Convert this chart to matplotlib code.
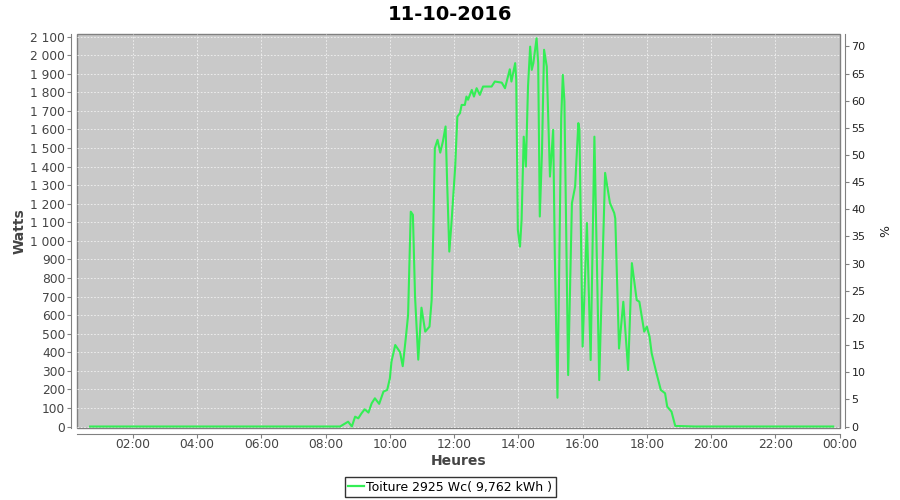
import numpy as np
import pandas as pd
import matplotlib
matplotlib.use("Agg")
import matplotlib.pyplot as plt
from matplotlib.dates import DateFormatter, HourLocator
from matplotlib.ticker import FuncFormatter, MultipleLocator

# Production data (time of day, watts)
times = ["00:40", "07:40", "08:27", "08:42", "08:49", "08:55", "09:01", "09:07",
         "09:13", "09:20", "09:26", "09:32", "09:40", "09:48", "09:55", "10:00",
         "10:03", "10:10", "10:19", "10:24", "10:30", "10:34", "10:39", "10:43",
         "10:47", "10:53", "10:59", "11:06", "11:14", "11:18", "11:21", "11:24",
         "11:29", "11:34", "11:39", "11:44", "11:47", "11:51", "11:55", "12:02",
         "12:06", "12:11", "12:14", "12:20", "12:23", "12:26", "12:33", "12:37",
         "12:42", "12:48", "12:54", "13:10", "13:16", "13:29", "13:35", "13:44",
         "13:47", "13:54", "13:56", "13:59", "14:03", "14:06", "14:10", "14:14",
         "14:18", "14:22", "14:25", "14:28", "14:34", "14:37", "14:40", "14:44",
         "14:48", "14:53", "14:59", "15:05", "15:08", "15:13", "15:20", "15:23",
         "15:26", "15:33", "15:40", "15:46", "15:52", "15:54", "16:00", "16:08",
         "16:15", "16:22", "16:31", "16:42", "16:51", "16:59", "17:01", "17:08",
         "17:16", "17:25", "17:32", "17:41", "17:46", "17:55", "18:00", "18:05",
         "18:09", "18:18", "18:26", "18:34", "18:38", "18:46", "18:53", "19:30",
         "23:48"]
watts = [0, 0, 0, 26, 0, 53, 44, 71,
         93, 75, 125, 152, 122, 188, 197, 260,
         350, 439, 400, 325, 484, 600, 1157, 1140,
         700, 360, 640, 511, 538, 681, 1041, 1499,
         1544, 1475, 1535, 1616, 1310, 942, 1095, 1400,
         1669, 1688, 1732, 1732, 1777, 1760, 1813, 1777,
         1822, 1786, 1831, 1831, 1858, 1852, 1822, 1924,
         1858, 1957, 1870, 1059, 969, 1113, 1561, 1400,
         1831, 2046, 1921, 1957, 2091, 1957, 1131, 1472,
         2029, 1939, 1346, 1598, 934, 155, 1660, 1894,
         1750, 277, 1203, 1292, 1634, 1600, 430, 1096,
         358, 1561, 250, 1366, 1204, 1150, 1120, 420,
         672, 304, 880, 681, 672, 511, 538, 484,
         394, 287, 197, 179, 107, 80, 3, 0,
         0]

peak_wc = 2925
label = "Toiture 2925 Wc( 9,762 kWh )"

day = "2016-10-11"
t = pd.to_datetime([day + " " + s for s in times])

fig = plt.figure(figsize=(9, 5), dpi=100)
ax = fig.add_axes([0.0852, 0.144, 0.8477, 0.788])
ax.set_facecolor("#c9c9c9")
ax.patch.set_edgecolor("#808080")
ax.patch.set_linewidth(1.0)

ax.plot(t, watts, color="#33ee55", lw=1.5, zorder=3)

x0 = pd.Timestamp(day + " 00:15")
x1 = pd.Timestamp("2016-10-12 00:00")
ax.set_xlim(x0, x1)
ax.set_ylim(-8, 2114)

ax.xaxis.set_major_locator(HourLocator(byhour=range(0, 24, 2)))
ax.xaxis.set_major_formatter(DateFormatter("%H:%M"))
ax.yaxis.set_major_locator(MultipleLocator(100))
ax.yaxis.set_major_formatter(FuncFormatter(lambda v, p: f"{int(v):,}".replace(",", " ")))

ax.grid(True, color="#f2f2f2", lw=0.6, ls=(0, (2, 2)))
ax.set_axisbelow(True)

for s in ["top", "right"]:
    ax.spines[s].set_visible(False)
for s in ["left", "bottom"]:
    ax.spines[s].set_position(("outward", 4))
    ax.spines[s].set_color("#808080")
ax.tick_params(axis="both", colors="#808080", labelcolor="#444444",
               labelsize=8.8, length=3, direction="out", pad=1.2)
ax.tick_params(axis="x", pad=0.5)

ax.set_xlabel("Heures", fontsize=10, fontweight="bold", color="#444444", labelpad=2)
ax.set_ylabel("Watts", fontsize=10, fontweight="bold", color="#444444", labelpad=3)

# right axis: percentage of peak power
ax2 = ax.twinx()
ax2.set_ylim(-8 / peak_wc * 100, 2114 / peak_wc * 100)
ax2.yaxis.set_major_locator(MultipleLocator(5))
for s in ["top", "left", "bottom"]:
    ax2.spines[s].set_visible(False)
ax2.spines["right"].set_position(("outward", 4))
ax2.spines["right"].set_color("#808080")
ax2.tick_params(axis="y", colors="#808080", labelcolor="#222222",
                labelsize=8, length=3, direction="out", pad=1.5)
ax2.set_ylabel("%", fontsize=9, color="#222222", labelpad=10)

fig.suptitle("11-10-2016", fontsize=14, fontweight="bold", y=0.99, va="top")

handle = plt.Line2D([], [], color="#33ee55", lw=1.6)
leg = fig.legend([handle], [label], loc="center", bbox_to_anchor=(0.5, 0.026),
                 fontsize=9, frameon=True, fancybox=False, handlelength=1.3,
                 handletextpad=0.2, borderpad=0.25, borderaxespad=0)
leg.get_frame().set_edgecolor("black")
leg.get_frame().set_linewidth(1.0)

fig.savefig("out.png", dpi=100)
